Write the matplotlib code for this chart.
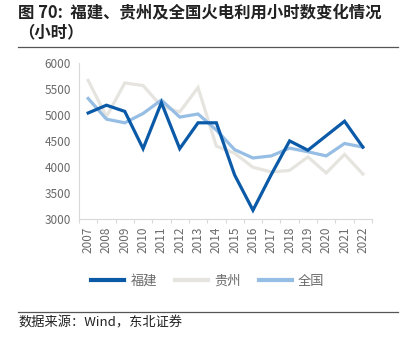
import numpy as np
from matplotlib import pyplot as plt
from matplotlib.lines import Line2D

plt.rcParams['font.family'] = ['Noto Sans CJK SC', 'DejaVu Sans']

years = [str(y) for y in range(2007, 2023)]
fujian = [5040, 5190, 5070, 4350, 5240, 4350, 4850, 4850, 3840, 3160, 3850, 4500, 4320, 4600, 4880, 4380]
guizhou = [5670, 4970, 5620, 5570, 5170, 5060, 5530, 4400, 4260, 3990, 3900, 3930, 4190, 3880, 4240, 3860]
national = [5320, 4920, 4850, 5030, 5290, 4960, 5020, 4710, 4330, 4170, 4210, 4360, 4290, 4210, 4450, 4380]

c_fj = '#0a5aa8'
c_gz = '#e6e4df'
c_nat = '#96bde3'
grey = '#6a6a6a'
axis_c = '#d9d9d9'

W, H = 408, 347
fig = plt.figure(figsize=(W / 100, H / 100), dpi=100)
ax = fig.add_axes([79 / W, 1 - 218.5 / H, (372 - 79) / W, (218.5 - 63.3) / H])

x = np.arange(len(years))
ax.plot(x, guizhou, color=c_gz, lw=2.3, solid_joinstyle='miter', zorder=2)
ax.plot(x, national, color=c_nat, lw=2.3, solid_joinstyle='miter', zorder=3)
ax.plot(x, fujian, color=c_fj, lw=2.3, solid_joinstyle='miter', zorder=4)

ax.set_xlim(-0.5, len(years) - 0.5)
ax.set_ylim(3000, 6000)
ax.set_yticks(range(3000, 6001, 500))
ax.tick_params(axis='y', length=0, labelsize=8.5, labelcolor=grey, pad=6)
ax.set_xticks(x)
ax.set_xticklabels(years, rotation=90, fontsize=8.5, color=grey)
ax.set_xticks(np.arange(-0.5, len(years), 1), minor=True)
ax.tick_params(axis='x', which='major', length=0, pad=6)
ax.tick_params(axis='x', which='minor', length=3, color=axis_c, width=0.8)
for s in ['top', 'right']:
    ax.spines[s].set_visible(False)
for s in ['left', 'bottom']:
    ax.spines[s].set_color(axis_c)
    ax.spines[s].set_linewidth(0.8)

handles = [Line2D([], [], color=c, lw=3) for c in (c_fj, c_gz, c_nat)]
leg = fig.legend(handles, ['福建', '贵州', '全国'], loc='center', bbox_to_anchor=(208 / W, 1 - 281 / H),
                 ncol=3, frameon=False, fontsize=9.5, handlelength=2.45, handletextpad=0.5,
                 columnspacing=1.4)
for t in leg.get_texts():
    t.set_color(grey)

fig.text(18 / W, 1 - 13 / H, '图 70:  福建、贵州及全国火电利用小时数变化情况', fontsize=11.8,
         fontweight='bold', va='center', ha='left', color='#222222')
fig.text(18 / W, 1 - 32 / H, '（小时）', fontsize=11.8, fontweight='bold', va='center', ha='left',
         color='#222222')
fig.add_artist(Line2D([18 / W, 398 / W], [1 - 47 / H, 1 - 47 / H], color='#555555', lw=0.9))
fig.add_artist(Line2D([18 / W, 398 / W], [1 - 312 / H, 1 - 312 / H], color='#555555', lw=0.9))
fig.text(18 / W, 1 - 323 / H, '数据来源：Wind，东北证券', fontsize=9.5, va='center', ha='left',
         color='#222222')

fig.savefig('out.png', dpi=100)
